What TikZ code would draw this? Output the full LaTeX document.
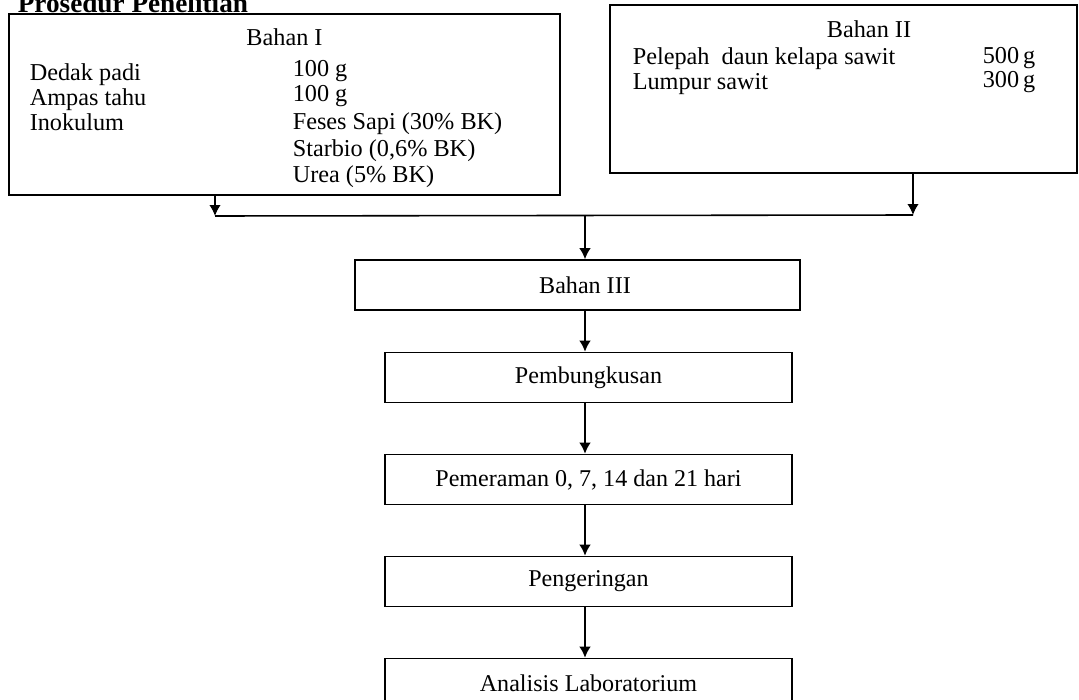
\documentclass[tikz,border=0pt]{standalone}
\usepackage{fontspec}
\setmainfont{Liberation Serif}
\usepackage{tikz}
\usetikzlibrary{arrows.meta}
\tikzstyle{bahan}  = [draw,rectangle,inner sep=0mm]
\tikzstyle{proses} = [draw,rectangle,minimum width=8.14cm,minimum height=1cm,font=\fontsize{13.7}{16}\selectfont]
\tikzstyle{isi}    = [anchor=base west,inner sep=0mm,font=\fontsize{13.8}{16}\selectfont]

\begin{document}
\begin{tikzpicture}[->,>={Latex[length=2.2mm,width=2.3mm]},node distance=2.04cm,line width=0.9pt]
\useasboundingbox (0,0) rectangle (21.58,-14);

\node[anchor=base west,inner sep=0mm,font=\fontsize{15.5}{18}\selectfont\bfseries] (judul) at (0.34,-0.26) {Prosedur Penelitian};

\node[bahan,minimum width=11.02cm,minimum height=3.62cm] (B1) at (5.69,-2.09) {};
\node[bahan,minimum width=9.34cm,minimum height=3.36cm] (B2) at (16.87,-1.78) {};

% isi bahan I
\node[isi,anchor=base] (B1t) at (5.69,-0.9) {Bahan I};
\node[isi] (B1a) at (0.58,-1.6) {Dedak padi};
\node[isi] (B1b) at (0.58,-2.11) {Ampas tahu};
\node[isi] (B1c) at (0.58,-2.6) {Inokulum};
\node[isi] (B1d) at (5.84,-1.52) {100 g};
\node[isi] (B1e) at (5.84,-2.04) {100 g};
\node[isi] (B1f) at (5.84,-2.58) {Feses Sapi (30\% BK)};
\node[isi] (B1g) at (5.84,-3.12) {Starbio (0,6\% BK)};
\node[isi] (B1h) at (5.84,-3.64) {Urea (5\% BK)};

% isi bahan II
\node[isi,anchor=base] (B2t) at (17.38,-0.76) {Bahan II};
\node[isi] (B2a) at (12.64,-1.29) {Pelepah~ daun kelapa sawit};
\node[isi] (B2b) at (12.64,-1.79) {Lumpur sawit};
\node[isi] (B2c) at (19.64,-1.27) {500\,g};
\node[isi] (B2d) at (19.64,-1.75) {300\,g};

% proses
\node[proses,minimum width=8.9cm] (P1) at (11.55,-5.7) {\hspace*{0.3cm}Bahan III};
\node[proses] (P2) at (11.77,-7.55) {Pembungkusan};
\node[proses] (P3) [below of=P2] {Pemeraman 0, 7, 14 dan 21 hari};
\node[proses] (P4) [below of=P3] {Pengeringan};
\node[proses] (P5) [below of=P4] {Analisis Laboratorium};

\coordinate (JL) at (4.3,-4.32);
\coordinate (JR) at (18.26,-4.3);
\coordinate (JM) at (11.7,-4.3);

\path
    (B1.south -| JL) edge (JL)
    (B2.south -| JR) edge (JR);
\draw[-] (JL) -- (JR);
\path
    (JM) edge (P1.north -| JM)
    (P1.south -| JM) edge (P2.north -| JM)
    (P2.south -| JM) edge (P3.north -| JM)
    (P3.south -| JM) edge (P4.north -| JM)
    (P4.south -| JM) edge (P5.north -| JM);
\end{tikzpicture}
\end{document}
